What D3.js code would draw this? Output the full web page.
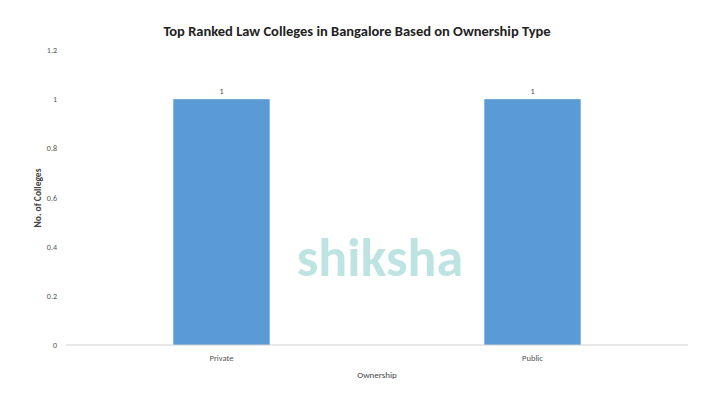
<!DOCTYPE html>
<html><head><meta charset="utf-8">
<script src="https://cdn.jsdelivr.net/npm/d3@7"></script>
<style>body{margin:0;background:#fff}</style></head>
<body><svg id="c" width="720" height="404"></svg>
<script>
const categories = ["Private", "Public"];
const values = [1, 1];
const yTicks = [0, 0.2, 0.4, 0.6, 0.8, 1, 1.2];
const yTickLabels = ["0", "0.2", "0.4", "0.6", "0.8", "1", "1.2"];

const svg = d3.select("#c");
const font = "Calibri, 'Liberation Sans', Arial, sans-serif";
const x = d3.scaleBand().domain(categories).range([66, 688]).paddingInner(0.69).paddingOuter(0.345);
const y = d3.scaleLinear().domain([0, 1.2]).range([345, 50]);

svg.append("text").attr("x", 357).attr("y", 36).attr("text-anchor", "middle")
  .attr("font-family", font).attr("font-weight", "bold").attr("font-size", 14.5).attr("fill", "#222")
  .text("Top Ranked Law Colleges in Bangalore Based on Ownership Type");

// watermark
svg.append("text").attr("x", 380).attr("y", 276).attr("text-anchor", "middle")
  .attr("font-family", font).attr("font-size", 54).attr("font-weight", "bold").attr("fill", "#a9dcd8").attr("opacity", 0.75)
  .text("shiksha");

yTicks.forEach((t, i) => {
  svg.append("text").attr("x", 57).attr("y", y(t) + 3).attr("text-anchor", "end")
    .attr("font-family", font).attr("font-size", 8).attr("fill", "#555").text(yTickLabels[i]);
});

svg.selectAll("rect.bar").data(categories).enter().append("rect")
  .attr("x", d => x(d)).attr("width", x.bandwidth())
  .attr("y", (d, i) => y(values[i])).attr("height", (d, i) => y(0) - y(values[i]))
  .attr("fill", "#5b9bd5");

svg.selectAll("text.val").data(categories).enter().append("text")
  .attr("x", d => x(d) + x.bandwidth() / 2).attr("y", (d, i) => y(values[i]) - 5)
  .attr("text-anchor", "middle").attr("font-family", font).attr("font-size", 8).attr("fill", "#444")
  .text((d, i) => values[i]);

svg.append("line").attr("x1", 66).attr("x2", 688).attr("y1", y(0)).attr("y2", y(0))
  .attr("stroke", "#d0d0d0");

categories.forEach(c => {
  svg.append("text").attr("x", x(c) + x.bandwidth() / 2).attr("y", 361).attr("text-anchor", "middle")
    .attr("font-family", font).attr("font-size", 8.5).attr("fill", "#555").text(c);
});

svg.append("text").attr("x", 377).attr("y", 378).attr("text-anchor", "middle")
  .attr("font-family", font).attr("font-size", 9).attr("fill", "#444").text("Ownership");

svg.append("text").attr("transform", "translate(41,198) rotate(-90)").attr("text-anchor", "middle")
  .attr("font-family", font).attr("font-size", 9.5).attr("font-weight", "bold").attr("fill", "#444").text("No. of Colleges");
</script></body></html>
